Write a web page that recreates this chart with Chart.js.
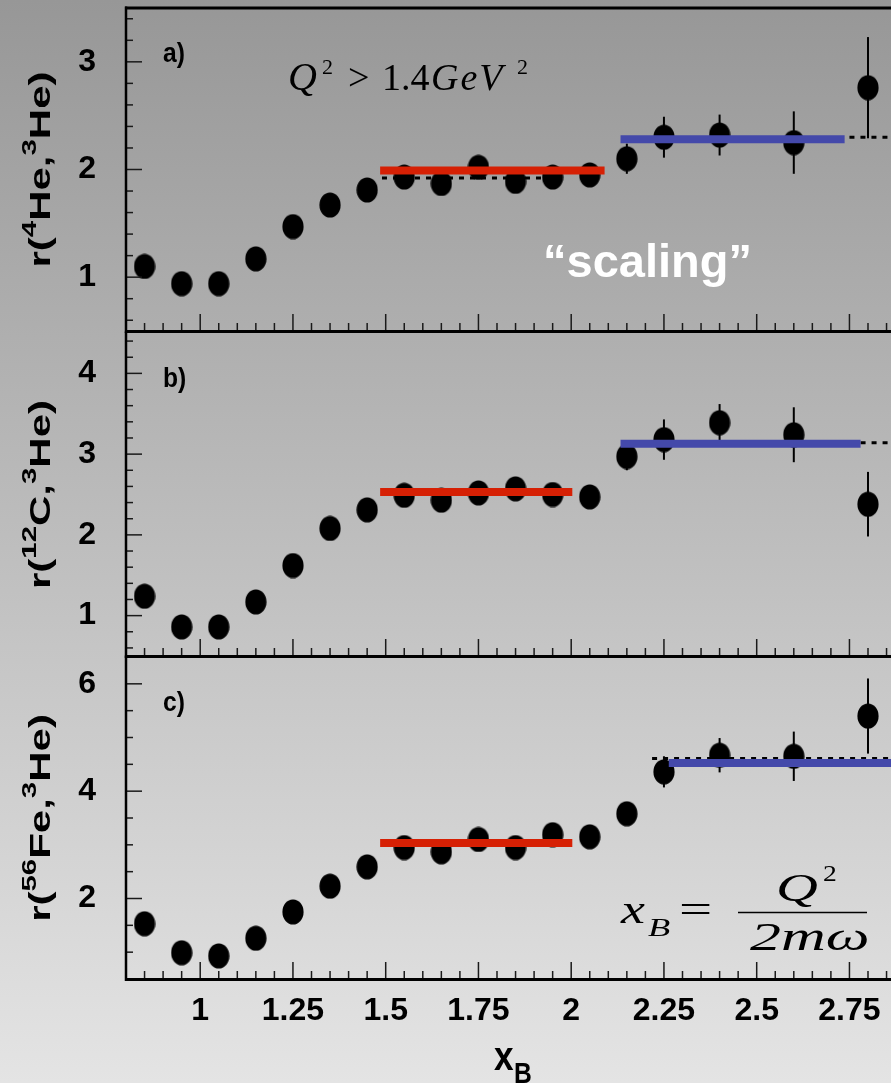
<!DOCTYPE html>
<html>
<head>
<meta charset="utf-8">
<script src="https://cdn.jsdelivr.net/npm/chart.js@4.4.1/dist/chart.umd.min.js"></script>
<style>
  html, body { margin: 0; padding: 0; }
  body {
    width: 891px; height: 1083px; position: relative; overflow: hidden;
    background: linear-gradient(to bottom, #979797, #e4e4e4);
  }
  canvas { position: absolute; left: 0; }
</style>
</head>
<body>
<script>
// x_B bins shared by the three ratios
const xB = [0.85, 0.95, 1.05, 1.15, 1.25, 1.35, 1.45, 1.55, 1.65, 1.75, 1.85, 1.95, 2.05, 2.15, 2.25, 2.4, 2.6, 2.8];

const rHe4   = [1.10, 0.94, 0.94, 1.17, 1.47, 1.67, 1.81, 1.93, 1.87, 2.02, 1.89, 1.93, 1.95, 2.10, 2.30, 2.32, 2.25, 2.76];
const errHe4 = [0.03, 0.03, 0.03, 0.03, 0.04, 0.04, 0.05, 0.05, 0.06, 0.07, 0.08, 0.09, 0.10, 0.14, 0.19, 0.19, 0.29, 0.47];

const rC12   = [1.24, 0.86, 0.86, 1.17, 1.62, 2.08, 2.31, 2.49, 2.43, 2.52, 2.57, 2.50, 2.47, 2.97, 3.18, 3.39, 3.24, 2.38];
const errC12 = [0.03, 0.03, 0.03, 0.04, 0.05, 0.06, 0.07, 0.08, 0.08, 0.09, 0.10, 0.11, 0.12, 0.17, 0.25, 0.23, 0.34, 0.40];

const rFe56   = [1.53, 0.99, 0.93, 1.26, 1.75, 2.23, 2.59, 2.95, 2.87, 3.10, 2.95, 3.19, 3.15, 3.58, 4.36, 4.67, 4.65, 5.40];
const errFe56 = [0.04, 0.04, 0.04, 0.05, 0.06, 0.08, 0.09, 0.10, 0.11, 0.12, 0.14, 0.15, 0.17, 0.20, 0.29, 0.32, 0.46, 0.70];

// plateau fits: [x from, x to, level]
const redHe4  = [1.485, 2.09, 1.99];
const blueHe4 = [2.133, 2.737, 2.28];
const dashHe4 = [[1.49, 1.92, 1.92], [2.75, 2.862, 2.30]];
const redC12  = [1.485, 2.003, 2.53];
const blueC12 = [2.133, 2.78, 3.13];
const dashC12 = [[1.49, 1.95, 2.50], [2.78, 2.862, 3.14]];
const redFe56  = [1.485, 2.003, 3.035];
const blueFe56 = [2.263, 2.862, 4.525];
const dashFe56 = [[2.218, 2.862, 4.61]];

const xTickLabels = ['1', '1.25', '1.5', '1.75', '2', '2.25', '2.5', '2.75'];
const yLabelsHe4  = ['1', '2', '3'];
const yLabelsC12  = ['1', '2', '3', '4'];
const yLabelsFe56 = ['2', '4', '6'];

const SANS = '"Liberation Sans", Arial, sans-serif';
const SERIF = '"Liberation Serif", "Times New Roman", serif';
const RED = '#d62004';
const BLUE = '#4449aa';

const panels = [
  { key: 'a', top: 0, height: 345, padTop: 8, axisH: 14, yMin: 0.5, yMax: 3.5, yFrom: 0.6, yTo: 3.4, yStep: 0.2,
    yLabels: yLabelsHe4, vals: rHe4, errs: errHe4, red: redHe4, blue: blueHe4, dash: dashHe4,
    letter: 'a)', target: ['4', 'He'], showX: false },
  { key: 'b', top: 330, height: 340, padTop: 3, axisH: 14, yMin: 0.5, yMax: 4.5, yFrom: 0.6, yTo: 4.4, yStep: 0.2,
    yLabels: yLabelsC12, vals: rC12, errs: errC12, red: redC12, blue: blueC12, dash: dashC12,
    letter: 'b)', target: ['12', 'C'], showX: false },
  { key: 'c', top: 650, height: 433, padTop: 7, axisH: 104, yMin: 0.5, yMax: 6.5, yFrom: 1, yTo: 6, yStep: 0.5,
    yLabels: yLabelsFe56, vals: rFe56, errs: errFe56, red: redFe56, blue: blueFe56, dash: dashFe56,
    letter: 'c)', target: ['56', 'Fe'], showX: true }
];
const panelByKey = {};
panels.forEach(p => { panelByKey[p.key] = p; });

function steps(from, to, step) {
  const out = [];
  for (let v = from; v <= to + 1e-9; v += step) out.push(+v.toFixed(3));
  return out;
}
const xTickValues = steps(0.85, 2.85, 0.05);

function labelFor(v, labels) {
  const s = String(+(+v).toFixed(3));
  return labels.includes(s) ? s : '';
}

// filled ellipse used as the data marker
const dot = document.createElement('canvas');
dot.width = 22; dot.height = 26;
(function () {
  const c = dot.getContext('2d');
  c.fillStyle = '#000';
  c.beginPath();
  c.ellipse(11, 13, 10.6, 12.6, 0, 0, Math.PI * 2);
  c.fill();
})();

function line(ctx, x1, y1, x2, y2) {
  ctx.beginPath(); ctx.moveTo(x1, y1); ctx.lineTo(x2, y2); ctx.stroke();
}

// draw pieces of text one after another; each piece is [text, font, dy]
function run(ctx, x, y, parts, sx) {
  ctx.save();
  ctx.translate(x, y);
  ctx.scale(sx || 1, 1);
  let cx = 0;
  parts.forEach(([t, font, dy]) => {
    ctx.font = font;
    ctx.fillText(t, cx, dy || 0);
    cx += ctx.measureText(t).width;
  });
  ctx.restore();
}

function runWidth(ctx, parts) {
  let w = 0;
  parts.forEach(([t, font]) => { ctx.font = font; w += ctx.measureText(t).width; });
  return w;
}

const deco = {
  id: 'deco',
  beforeDatasetsDraw(chart, args, o) {
    const p = panelByKey[o.panel];
    const { ctx, scales: { x, y } } = chart;
    ctx.save();
    ctx.strokeStyle = '#000';
    ctx.lineWidth = 2;
    p.vals.forEach((v, i) => {
      const px = x.getPixelForValue(xB[i]);
      line(ctx, px, y.getPixelForValue(v - p.errs[i]), px, y.getPixelForValue(v + p.errs[i]));
    });
    ctx.restore();
  },
  afterDraw(chart, args, o) {
    const p = panelByKey[o.panel];
    const { ctx, chartArea: a, scales: { x, y } } = chart;
    const W = chart.width;
    const t0 = p.top; // page y of the canvas top
    ctx.save();

    // inward ticks
    ctx.strokeStyle = '#1a1a1a';
    ctx.lineWidth = 1.5;
    x.ticks.forEach(t => {
      const px = x.getPixelForValue(t.value);
      line(ctx, px, a.bottom, px, a.bottom - (labelFor(t.value, xTickLabels) ? 17 : 8));
    });
    y.ticks.forEach(t => {
      const py = y.getPixelForValue(t.value);
      line(ctx, a.left, py, a.left + (labelFor(t.value, p.yLabels) ? 16 : 7), py);
    });

    // frame
    ctx.strokeStyle = '#000';
    ctx.lineWidth = 3;
    line(ctx, a.left - 1, a.bottom + 0.5, W, a.bottom + 0.5);
    if (p.key === 'a') line(ctx, a.left - 1, a.top, W, a.top);
    ctx.lineWidth = 2.5;
    line(ctx, a.left, a.top - 1.5, a.left, a.bottom + 2);

    ctx.fillStyle = '#000';
    ctx.textBaseline = 'alphabetic';
    ctx.textAlign = 'left';

    // panel letter
    run(ctx, 163, a.top + 54, [[p.letter, 'bold 28px ' + SANS, 0]], 0.88);

    // rotated ratio title with superscripts
    const big = 'bold 30px ' + SANS, small = 'bold 21px ' + SANS;
    const parts = [['r(', big, 0], [p.target[0], small, -14], [p.target[1] + ',', big, 0], ['3', small, -14], ['He)', big, 0]];
    const sx = 1.4;
    const w = runWidth(ctx, parts);
    ctx.save();
    ctx.translate(50, (a.top + a.bottom) / 2);
    ctx.rotate(-Math.PI / 2);
    run(ctx, -w * sx / 2, 0, parts, sx);
    ctx.restore();

    if (p.key === 'a') {
      ctx.font = 'italic 40px ' + SERIF; ctx.fillText('Q', 288, 90);
      ctx.font = '22px ' + SERIF; ctx.fillText('2', 322, 74);
      ctx.font = '38px ' + SERIF; ctx.fillText('>', 348, 90); ctx.fillText('1.4', 382, 90);
      ctx.font = 'italic 38px ' + SERIF; ctx.letterSpacing = '2px'; ctx.fillText('GeV', 431, 90); ctx.letterSpacing = '0px';
      ctx.font = '22px ' + SERIF; ctx.fillText('2', 517, 74);
      ctx.fillStyle = '#fff';
      ctx.font = 'bold 47px ' + SANS;
      ctx.fillText('\u201Cscaling\u201D', 543, 277);
    }

    if (p.key === 'c') {
      // x_B = Q^2 / 2m omega
      const it = 'italic 40px ' + SERIF;
      run(ctx, 621, 923 - t0, [['x', it, 0]], 1.35);
      run(ctx, 648, 936 - t0, [['B', 'italic 26px ' + SERIF, 0]], 1.4);
      run(ctx, 679, 922 - t0, [['=', '38px ' + SERIF, 0]], 1.55);
      ctx.lineWidth = 1.5;
      line(ctx, 738, 912.5 - t0, 867, 912.5 - t0);
      run(ctx, 776, 901 - t0, [['Q', it, 0]], 1.45);
      run(ctx, 823, 881 - t0, [['2', '23px ' + SERIF, 0]], 1.2);
      run(ctx, 750, 950 - t0, [['2', it, 0], ['m', it, 0], ['\u03C9', it, 0]], 1.55);

      // axis title
      run(ctx, 494, 1070 - t0, [['x', 'bold 40px ' + SANS, 0]], 0.88);
      run(ctx, 514, 1083 - t0, [['B', 'bold 29px ' + SANS, 0]], 0.85);
    }
    ctx.restore();
  }
};

function seg(s) {
  return [{ x: s[0], y: s[2] }, { x: s[1], y: s[2] }];
}

panels.forEach(p => {
  const canvas = document.createElement('canvas');
  canvas.width = 891;
  canvas.height = p.height;
  canvas.style.top = p.top + 'px';
  document.body.appendChild(canvas);

  const datasets = [
    { data: seg(p.red), showLine: true, borderColor: RED, borderWidth: 8, pointRadius: 0 },
    { data: seg(p.blue), showLine: true, borderColor: BLUE, borderWidth: 8, pointRadius: 0 }
  ];
  p.dash.forEach(d => {
    datasets.push({ data: seg(d), showLine: true, borderColor: '#000', borderWidth: 3, borderDash: [5, 6], pointRadius: 0 });
  });
  datasets.push({
    data: xB.map((x, i) => ({ x: x, y: p.vals[i] })),
    showLine: false, pointStyle: dot, pointRadius: 12, pointBackgroundColor: '#000'
  });

  new Chart(canvas.getContext('2d'), {
    type: 'scatter',
    data: { datasets: datasets },
    plugins: [deco],
    options: {
      responsive: false,
      animation: false,
      events: [],
      layout: { autoPadding: false, padding: { top: p.padTop, left: 0, right: 0, bottom: 0 } },
      plugins: {
        legend: { display: false },
        tooltip: { enabled: false },
        deco: { panel: p.key }
      },
      scales: {
        x: {
          type: 'linear', min: 0.8, max: 2.862,
          afterBuildTicks: s => { s.ticks = xTickValues.map(v => ({ value: v })); },
          afterFit: s => { s.height = p.axisH; s.paddingLeft = 0; s.paddingRight = 0; },
          grid: { display: false },
          border: { display: false },
          ticks: {
            display: p.showX, autoSkip: false, maxRotation: 0, minRotation: 0, padding: 5,
            color: '#000', font: { family: SANS, size: 32, weight: 'bold' },
            callback: v => labelFor(v, xTickLabels)
          }
        },
        y: {
          type: 'linear', min: p.yMin, max: p.yMax,
          afterBuildTicks: s => { s.ticks = steps(p.yFrom, p.yTo, p.yStep).map(v => ({ value: v })); },
          afterFit: s => { s.width = 126; s.paddingTop = 0; s.paddingBottom = 0; },
          grid: { display: false },
          border: { display: false },
          ticks: {
            autoSkip: false, padding: 22,
            color: '#000', font: { family: SANS, size: 32, weight: 'bold' },
            callback: v => labelFor(v, p.yLabels)
          }
        }
      }
    }
  });
});
</script>
</body>
</html>
